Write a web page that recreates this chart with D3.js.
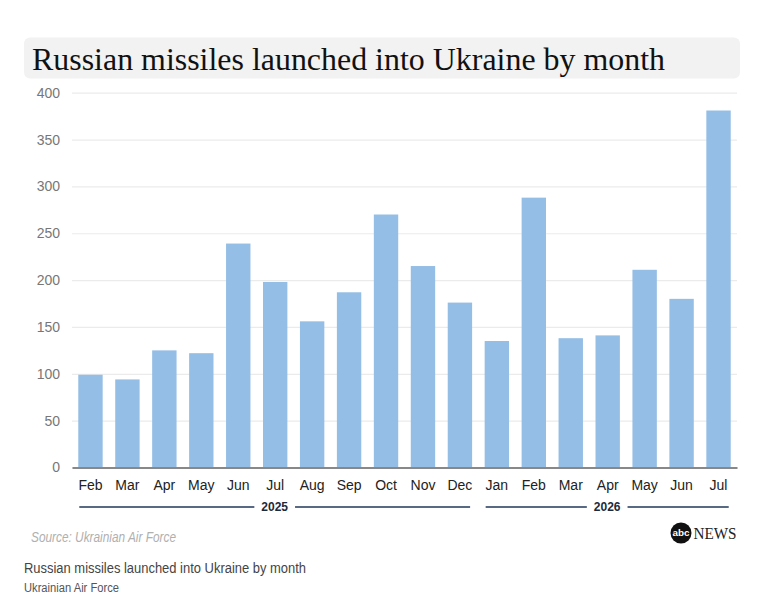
<!DOCTYPE html>
<html>
<head>
<meta charset="utf-8">
<script src="https://cdn.jsdelivr.net/npm/d3@7"></script>
<style>
  body { margin: 0; background: #fff; }
  svg { display: block; }
</style>
</head>
<body>
<svg id="chart"></svg>
<script>
// chart data
const months = ["Feb", "Mar", "Apr", "May", "Jun", "Jul", "Aug", "Sep", "Oct", "Nov", "Dec",
                "Jan", "Feb", "Mar", "Apr", "May", "Jun", "Jul"];
const years = ["2025", "2025", "2025", "2025", "2025", "2025", "2025", "2025", "2025", "2025", "2025",
               "2026", "2026", "2026", "2026", "2026", "2026", "2026"];
const missiles = [99, 94, 125, 122, 239, 198, 156, 187, 270, 215, 176, 135, 288, 138, 141, 211, 180, 381];
const yTicks = [0, 50, 100, 150, 200, 250, 300, 350, 400];

const title = "Russian missiles launched into Ukraine by month";
const source = "Source: Ukrainian Air Force";

function drawChart() {
  const W = 778, H = 609;
  const left = 72, right = 737, top = 92.7, bottom = 467.5;

  const svg = d3.select("#chart").attr("width", W).attr("height", H);

  // title on grey band
  svg.append("rect")
    .attr("x", 24).attr("y", 37.5)
    .attr("width", 716).attr("height", 41)
    .attr("rx", 6)
    .attr("fill", "#f2f2f2");
  svg.append("text")
    .attr("x", 32).attr("y", 69.5)
    .attr("textLength", 633)
    .attr("lengthAdjust", "spacingAndGlyphs")
    .style("font-family", "'Liberation Serif', 'DejaVu Serif', serif")
    .style("font-size", "32px")
    .attr("fill", "#111")
    .text(title);

  const x = d3.scaleBand()
    .domain(d3.range(missiles.length))
    .range([left, right])
    .paddingInner(0.34)
    .paddingOuter(0.17);

  const y = d3.scaleLinear()
    .domain([0, 400])
    .range([bottom, top]);

  // y axis with gridlines
  const yAxis = svg.append("g")
    .attr("transform", "translate(" + left + ",0)")
    .call(d3.axisLeft(y).tickValues(yTicks).tickSize(-(right - left)).tickPadding(12));
  yAxis.select(".domain").remove();
  yAxis.selectAll(".tick line").attr("stroke", "#ebebeb").attr("stroke-width", 1.2);
  yAxis.selectAll(".tick text")
    .style("font-family", "'Liberation Sans', Arial, sans-serif")
    .style("font-size", "14px")
    .attr("fill", "#777");

  // bars
  svg.selectAll(".bar")
    .data(missiles)
    .enter().append("rect")
    .attr("class", "bar")
    .attr("x", (d, i) => x(i))
    .attr("y", d => y(d))
    .attr("width", x.bandwidth())
    .attr("height", d => y(0) - y(d))
    .attr("fill", "#94bee5");

  // x axis, month names
  const xAxis = svg.append("g")
    .attr("transform", "translate(0," + y(0) + ")")
    .call(d3.axisBottom(x).tickSize(0).tickPadding(13).tickFormat(i => months[i]));
  xAxis.select(".domain").attr("stroke", "#888").attr("stroke-width", 2);
  xAxis.selectAll(".tick text")
    .style("font-family", "'Liberation Sans', Arial, sans-serif")
    .style("font-size", "14px")
    .attr("fill", "#222");

  // year brackets under the months
  const yearY = 507;
  const groups = d3.groups(d3.range(missiles.length), i => years[i]);
  groups.forEach(([year, idx]) => {
    const x0 = x(idx[0]) + 1;
    const x1 = x(idx[idx.length - 1]) + x.bandwidth() - 2;
    const mid = (x0 + x1) / 2;
    const g = svg.append("g");
    const label = g.append("text")
      .attr("x", mid).attr("y", yearY)
      .attr("dy", "0.36em")
      .attr("text-anchor", "middle")
      .style("font-family", "'Liberation Sans', Arial, sans-serif")
      .style("font-size", "12px")
      .style("font-weight", "bold")
      .attr("fill", "#1c2b3b")
      .text(year);
    const half = label.node().getComputedTextLength() / 2 + 7;
    [[x0, mid - half], [mid + half, x1]].forEach(([a, b]) => {
      g.append("line")
        .attr("x1", a).attr("x2", b)
        .attr("y1", yearY).attr("y2", yearY)
        .attr("stroke", "#21395a")
        .attr("stroke-width", 1.4);
    });
  });

  // source note
  svg.append("text")
    .attr("x", 31).attr("y", 542)
    .attr("textLength", 145)
    .attr("lengthAdjust", "spacingAndGlyphs")
    .style("font-family", "'Liberation Sans', Arial, sans-serif")
    .style("font-size", "14px")
    .style("font-style", "italic")
    .attr("fill", "#b0b0b0")
    .text(source);

  // abc news logo
  const logo = svg.append("g");
  logo.append("circle")
    .attr("cx", 681).attr("cy", 533).attr("r", 10.5)
    .attr("fill", "#111");
  logo.append("text")
    .attr("x", 681).attr("y", 533).attr("dy", "0.33em")
    .attr("text-anchor", "middle")
    .attr("textLength", 17)
    .attr("lengthAdjust", "spacingAndGlyphs")
    .style("font-family", "'Liberation Sans', Arial, sans-serif")
    .style("font-size", "9px")
    .style("font-weight", "bold")
    .attr("fill", "#fff")
    .text("abc");
  logo.append("text")
    .attr("x", 693.5).attr("y", 539)
    .attr("textLength", 43)
    .attr("lengthAdjust", "spacingAndGlyphs")
    .style("font-family", "'Liberation Serif', serif")
    .style("font-size", "16px")
    .attr("fill", "#222")
    .text("NEWS");

  // caption under the graphic
  svg.append("text")
    .attr("x", 24).attr("y", 573)
    .attr("textLength", 282)
    .attr("lengthAdjust", "spacingAndGlyphs")
    .style("font-family", "'Liberation Sans', Arial, sans-serif")
    .style("font-size", "14px")
    .attr("fill", "#444")
    .text(title);
  svg.append("text")
    .attr("x", 24).attr("y", 592)
    .attr("textLength", 95)
    .attr("lengthAdjust", "spacingAndGlyphs")
    .style("font-family", "'Liberation Sans', Arial, sans-serif")
    .style("font-size", "12px")
    .attr("fill", "#555")
    .text("Ukrainian Air Force");
}

drawChart();
</script>
</body>
</html>
